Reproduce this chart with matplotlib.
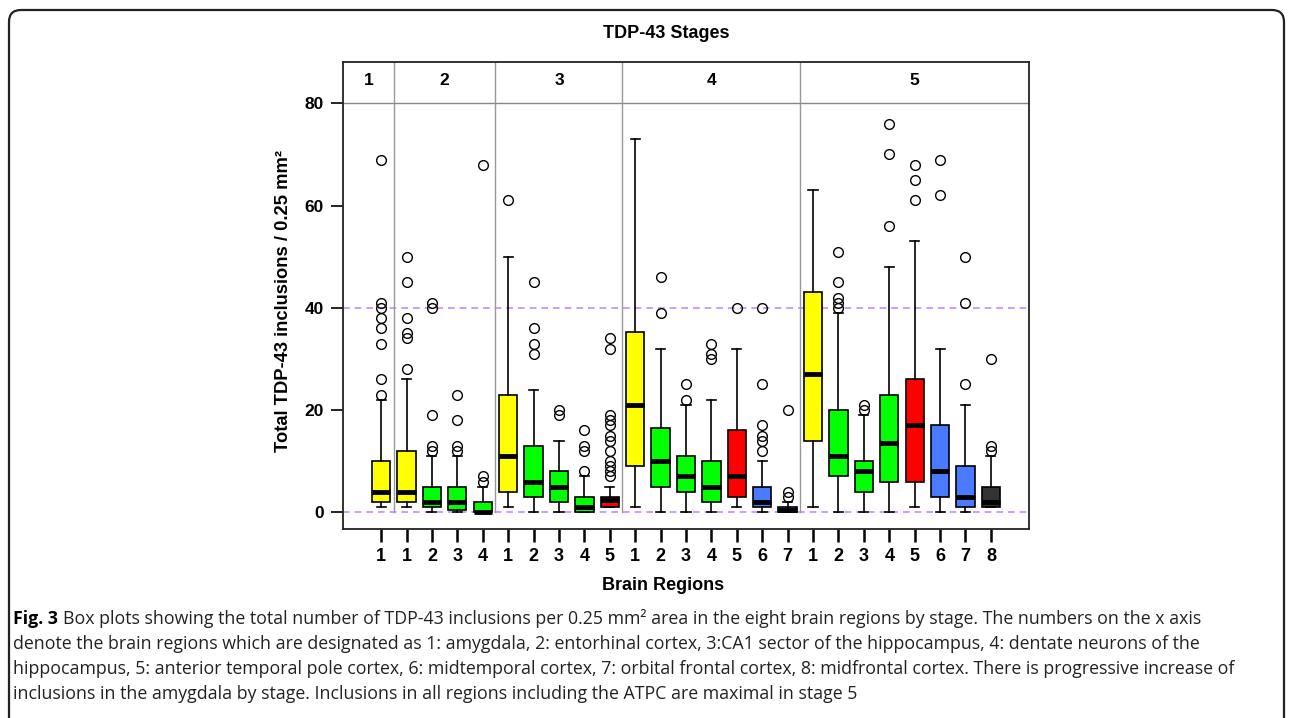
import matplotlib
matplotlib.use("Agg")
import matplotlib.pyplot as plt
from matplotlib.patches import FancyBboxPatch

# stage membership and region numbers for each of the 25 boxes
stages = ["1", "2", "3", "4", "5"]
stage_regions = [[1], [1, 2, 3, 4], [1, 2, 3, 4, 5],
                 [1, 2, 3, 4, 5, 6, 7], [1, 2, 3, 4, 5, 6, 7, 8]]

# box statistics (one entry per box, left to right)
whis_lo = [1, 1, 0, 0, 0, 1, 0, 0, 0, 1, 1, 0, 0, 0, 1, 0, 0, 1, 0, 0, 0, 1, 0, 0, 1]
q1 = [2, 2, 1, 0.5, 0, 4, 3, 2, 0, 1, 9, 5, 4, 2, 3, 1, 0, 14, 7, 4, 6, 6, 3, 1, 1]
med = [4, 4, 2, 2, 0, 11, 6, 5, 1, 2.5, 21, 10, 7, 5, 7, 2, 0.5, 27, 11, 8, 13.5, 17, 8, 3, 2]
q3 = [10, 12, 5, 5, 2, 23, 13, 8, 3, 3, 35.3, 16.5, 11, 10, 16, 5, 1, 43, 20, 10, 23, 26, 17, 9, 5]
whis_hi = [22, 26, 11, 11, 5, 50, 24, 14, 7, 5, 73, 32, 21, 22, 32, 10, 2, 63, 39, 19, 48, 53, 32, 21, 11]
fliers = [
    [23, 26, 33, 36, 38, 40, 41, 69],
    [28, 34, 35, 38, 45, 50],
    [12, 13, 19, 40, 41],
    [12, 13, 18, 23],
    [6, 7, 68],
    [61],
    [31, 33, 36, 45],
    [19, 20],
    [8, 12, 13, 16],
    [7, 8, 9, 10, 12, 14, 15, 17, 18, 19, 32, 34],
    [],
    [39, 46],
    [22, 25],
    [30, 31, 33],
    [40],
    [12, 14, 15, 17, 25, 40],
    [3, 4, 20],
    [],
    [40, 41, 42, 45, 51],
    [20, 21],
    [56, 70, 76],
    [61, 65, 68],
    [62, 69],
    [25, 41, 50],
    [12, 13, 30],
]

region_colors = {1: "#ffff00", 2: "#00ff00", 3: "#00ff00", 4: "#00ff00",
                 5: "#ff0000", 6: "#4a7aff", 7: "#4a7aff", 8: "#333333"}

caption = [
    "Box plots showing the total number of TDP-43 inclusions per 0.25 mm\u00b2 area in the eight brain regions by stage. The numbers on the x axis",
    "denote the brain regions which are designated as 1: amygdala, 2: entorhinal cortex, 3:CA1 sector of the hippocampus, 4: dentate neurons of the",
    "hippocampus, 5: anterior temporal pole cortex, 6: midtemporal cortex, 7: orbital frontal cortex, 8: midfrontal cortex. There is progressive increase of",
    "inclusions in the amygdala by stage. Inclusions in all regions including the ATPC are maximal in stage 5",
]

W, H = 1292, 718
fig = plt.figure(figsize=(W / 100, H / 100), dpi=100)
ax = fig.add_axes([343 / W, 1 - 529 / H, (1029 - 343) / W, (529 - 61.7) / H])

regions = [r for s in stage_regions for r in s]
positions = list(range(1, len(regions) + 1))
stats = []
for i in range(len(regions)):
    stats.append(dict(whislo=whis_lo[i], q1=q1[i], med=med[i], q3=q3[i],
                      whishi=whis_hi[i], fliers=fliers[i]))

bp = ax.bxp(stats, positions=positions, widths=0.72, patch_artist=True,
            boxprops=dict(edgecolor="black", linewidth=1.2),
            medianprops=dict(color="black", linewidth=3.5, solid_capstyle="butt"),
            whiskerprops=dict(color="black", linewidth=1.2),
            capprops=dict(color="black", linewidth=1.2),
            flierprops=dict(marker="o", markerfacecolor="none", markeredgecolor="black",
                            markersize=7, markeredgewidth=1.0))
for patch, r in zip(bp["boxes"], regions):
    patch.set_facecolor(region_colors[r])

xmin, xmax = -0.5, 26.5
ax.set_xlim(xmin, xmax)
ax.set_ylim(-3.27, 88.14)

# reference lines
for yv in [0, 40]:
    ax.axhline(yv, color="#cc88ff", linestyle=(0, (4, 3)), linewidth=1.2, zorder=0)
ax.axhline(80, color="#888888", linewidth=1.0, zorder=1)

# stage separators and header labels
counts = [len(s) for s in stage_regions]
edges = [xmin]
acc = 0.5
for c in counts[:-1]:
    acc += c
    edges.append(acc)
    ax.plot([acc, acc], [0, 88.14], color="#999999", linewidth=1.0, zorder=0)
edges.append(xmax)
for i, s in enumerate(stages):
    ax.text((edges[i] + edges[i + 1]) / 2, 84.4, s, ha="center", va="center",
            fontsize=12.5, fontweight="bold", family="Liberation Sans")

ax.set_yticks([0, 20, 40, 60, 80])
ax.set_xticks(positions)
ax.set_xticklabels([str(r) for r in regions])
ax.tick_params(axis="y", length=9, width=1.2, pad=5, labelsize=12.5)
ax.tick_params(axis="x", length=9, width=1.8, pad=5, labelsize=13)
for lab in ax.get_xticklabels() + ax.get_yticklabels():
    lab.set_fontweight("bold")
    lab.set_family("Liberation Sans")
for sp in ax.spines.values():
    sp.set_linewidth(1.3)
    sp.set_color("#222222")

fig.text(666 / W, 1 - 34 / H, "TDP-43 Stages", ha="center", va="center",
         fontsize=13, fontweight="bold", family="Liberation Sans")
fig.text(663 / W, 1 - 586 / H, "Brain Regions", ha="center", va="center",
         fontsize=13, fontweight="bold", family="Liberation Sans")
fig.text(283 / W, 1 - 301 / H, "Total TDP-43 inclusions / 0.25 mm\u00b2", ha="center",
         va="center", rotation=90, fontsize=13.2, fontweight="bold", family="Liberation Sans")

# caption
renderer = fig.canvas.get_renderer()
x0 = 13 / W
cap_size = 12.8
for k, line in enumerate(caption):
    y = 1 - (619 + 25 * k) / H
    if k == 0:
        t = fig.text(x0, y, "Fig. 3 ", ha="left", va="center", fontsize=cap_size,
                     fontweight="bold", family="Open Sans")
        bb = t.get_window_extent(renderer=renderer)
        fig.text(bb.x1 / W, y, line, ha="left", va="center", fontsize=cap_size,
                 family="Open Sans", color="#222222")
    else:
        fig.text(x0, y, line, ha="left", va="center", fontsize=cap_size,
                 family="Open Sans", color="#222222")

border = FancyBboxPatch((0.09, -0.5), 12.75, 7.58, boxstyle="round,pad=0,rounding_size=0.12",
                        transform=fig.dpi_scale_trans, facecolor="none",
                        edgecolor="#222222", linewidth=1.6)
fig.patches.append(border)

fig.savefig("out.png", dpi=100)
